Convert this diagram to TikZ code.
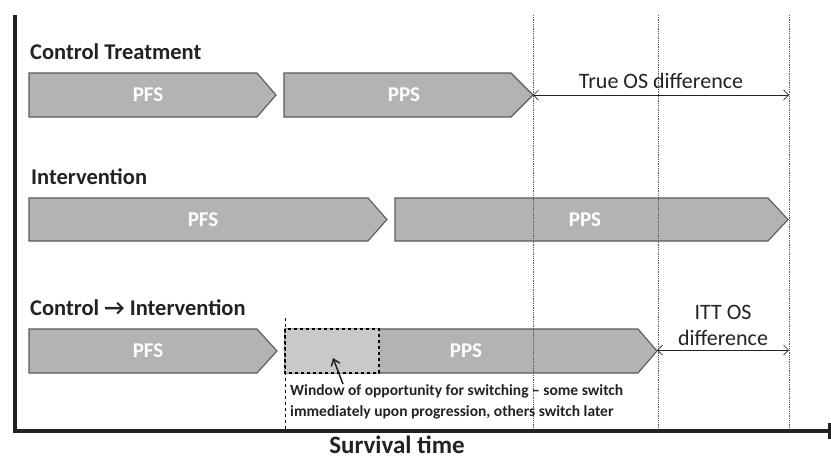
\documentclass[tikz,border=0pt]{standalone}
\usepackage{fontspec}
\setmainfont{Carlito}
\usetikzlibrary{arrows.meta}
\definecolor{phasegray}{HTML}{B2B3B5}
\definecolor{windowgray}{HTML}{C8C9CA}
\definecolor{edgegray}{HTML}{595959}
\definecolor{inkgray}{HTML}{222222}
\begin{document}
\begin{tikzpicture}[x=1pt, y=-1pt,
    phase/.style={fill=phasegray, draw=edgegray, line width=1.1pt},
    phaselabel/.style={text=white, font=\bfseries\fontsize{21}{24}\selectfont},
    rowtitle/.style={anchor=west, inner sep=0pt, text=inkgray, font=\bfseries\fontsize{22.5}{26}\selectfont},
    guide/.style={densely dotted, edgegray, line width=0.8pt},
    diff/.style={{Straight Barb[length=5pt,width=10pt]}-{Straight Barb[length=5pt,width=10pt]}, inkgray, line width=0.7pt},
    difflabel/.style={text=inkgray, align=center, font=\fontsize{22}{26}\selectfont}]
	\useasboundingbox (0,0) rectangle (831,459);

	% axes
	\draw [line width=4pt, inkgray] (15,15) -- (15,431) -- (829,431);
	\draw [line width=3pt, inkgray] (829,423) -- (829,439);
	\node [text=inkgray, font=\bfseries\fontsize{25}{28}\selectfont] (time) at (397,445) {Survival time};

	% control treatment
	\node [rowtitle] (ctrl) at (30,52) {Control Treatment};
	\draw [phase] (29,73) -- (257,73) -- (276,95) -- (257,117) -- (29,117) -- cycle;
	\node [phaselabel] (pfsA) at (148,95) {PFS};
	\draw [phase] (284,73) -- (511,73) -- (533,95) -- (511,117) -- (284,117) -- cycle;
	\node [phaselabel] (ppsA) at (404,95) {PPS};

	% intervention
	\node [rowtitle] (intv) at (31,177) {Intervention};
	\draw [phase] (29,198) -- (368,198) -- (387,219.5) -- (368,241) -- (29,241) -- cycle;
	\node [phaselabel] (pfsB) at (203,219.5) {PFS};
	\draw [phase] (395,198) -- (768,198) -- (788,219.5) -- (768,241) -- (395,241) -- cycle;
	\node [phaselabel] (ppsB) at (585,219.5) {PPS};

	% control -> intervention
	\node [rowtitle] (swch) at (30,308) {Control → Intervention};
	\draw [phase] (29,329) -- (257,329) -- (277,351) -- (257,373) -- (29,373) -- cycle;
	\node [phaselabel] (pfsC) at (148,351) {PFS};
	\draw [phase] (285,329) -- (638,329) -- (657,351) -- (638,373) -- (285,373) -- cycle;
	\node [phaselabel] (ppsC) at (466,351) {PPS};
	\draw [dashed, line width=1.5pt, fill=windowgray] (285,329) rectangle (379,373);
	\draw [dashed, line width=0.8pt] (285,318) -- (285,431);

	% guides
	\foreach \gx in {533,658,789}
		\draw [guide] (\gx,15) -- (\gx,429);

	% differences
	\coordinate (ctrlEnd) at (533,95);
	\coordinate (trueEnd) at (789,95);
	\draw [diff] (ctrlEnd) -- (trueEnd);
	\node [difflabel] (truediff) at (661,81) {True OS difference};
	\coordinate (swchEnd) at (657,350);
	\coordinate (ittEnd) at (789,350);
	\draw [diff] (swchEnd) -- (ittEnd);
	\node [difflabel] (ittdiff) at (723,325) {ITT OS\\difference};

	% switching window
	\node [anchor=north west, inner sep=0pt, align=left, text=inkgray, font=\bfseries\fontsize{15.5}{21}\selectfont] (note) at (290,384)
		{Window of opportunity for switching -- some switch\\immediately upon progression, others switch later};
	\coordinate (winTail) at (343,384);
	\coordinate (winHead) at (333,358);
	\draw [-{Straight Barb[length=6pt,width=9pt]}, line width=1.5pt, inkgray] (winTail) -- (winHead);
\end{tikzpicture}
\end{document}
